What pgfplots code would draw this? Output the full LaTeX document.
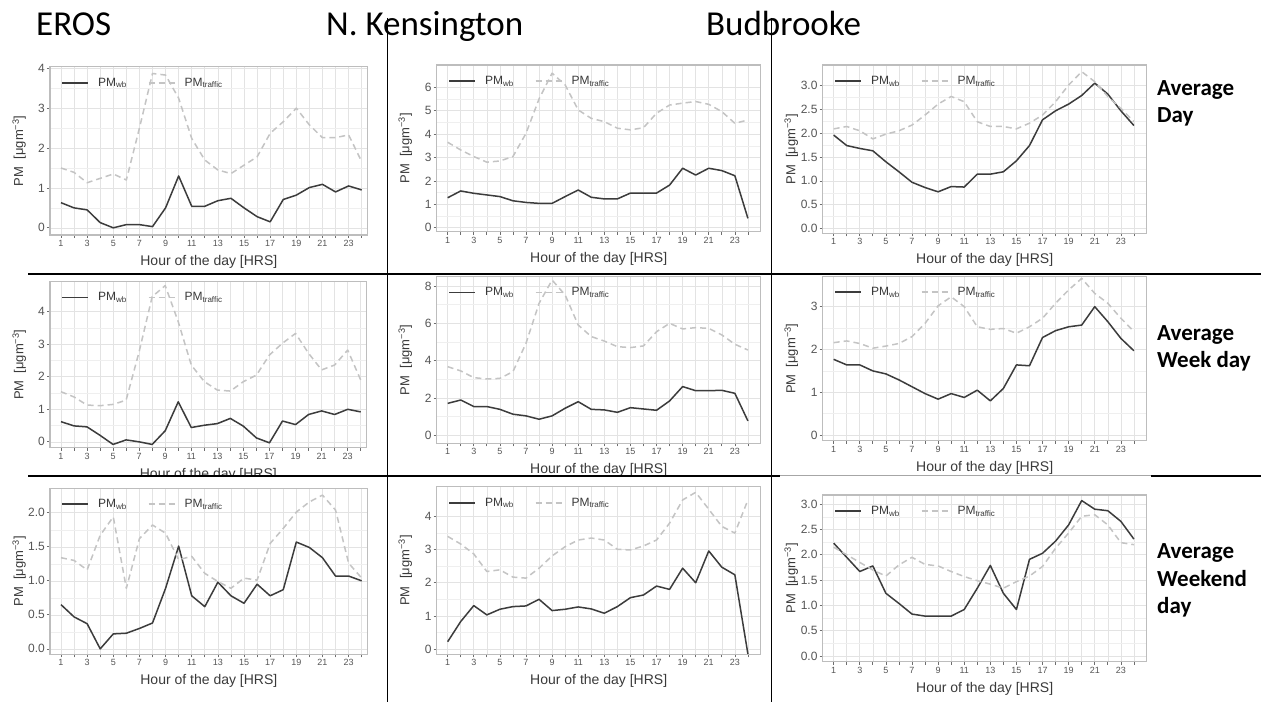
\documentclass[border=0pt]{standalone}
\usepackage{fontspec}
\setmainfont{Liberation Sans}
\newfontfamily\calibri{Carlito}
\usepackage{pgfplots}
\usepackage{pgfplotstable}
\pgfplotsset{compat=1.18}

\definecolor{boxgray}{HTML}{BDBDBD}
\definecolor{gridmaj}{HTML}{E3E3E3}
\definecolor{gridmin}{HTML}{EFEFEF}
\definecolor{tickgray}{HTML}{6E6E6E}
\definecolor{ticktext}{HTML}{555555}
\definecolor{labeltext}{HTML}{3A3A3A}
\definecolor{wbline}{HTML}{3C3C3C}
\definecolor{trline}{HTML}{C4C4C4}

% hourly means: h = hour, wb = PM_wb, tr = PM_traffic
\pgfplotstableread{
h wb tr
1 0.63 1.50
2 0.50 1.39
3 0.45 1.13
4 0.13 1.24
5 0.00 1.35
6 0.08 1.20
7 0.08 2.50
8 0.03 3.87
9 0.50 3.83
10 1.30 3.25
11 0.54 2.24
12 0.54 1.70
13 0.68 1.45
14 0.74 1.36
15 0.50 1.57
16 0.28 1.78
17 0.15 2.37
18 0.71 2.66
19 0.82 3.00
20 1.01 2.58
21 1.09 2.26
22 0.90 2.26
23 1.05 2.33
24 0.95 1.66
}\erosDay
\pgfplotstableread{
h wb tr
1 1.28 3.65
2 1.57 3.32
3 1.47 3.04
4 1.40 2.80
5 1.33 2.85
6 1.15 3.04
7 1.08 4.03
8 1.04 5.50
9 1.04 6.60
10 1.33 6.10
11 1.61 5.03
12 1.30 4.67
13 1.23 4.53
14 1.23 4.25
15 1.48 4.18
16 1.48 4.27
17 1.48 4.89
18 1.82 5.24
19 2.54 5.32
20 2.25 5.39
21 2.54 5.27
22 2.44 4.96
23 2.22 4.46
24 0.40 4.60
}\nkDay
\pgfplotstableread{
h wb tr
1 1.96 2.09
2 1.74 2.14
3 1.68 2.05
4 1.63 1.88
5 1.40 1.98
6 1.19 2.05
7 0.97 2.17
8 0.86 2.38
9 0.77 2.61
10 0.88 2.77
11 0.87 2.66
12 1.14 2.24
13 1.14 2.14
14 1.19 2.14
15 1.42 2.09
16 1.74 2.21
17 2.28 2.38
18 2.47 2.66
19 2.61 3.01
20 2.79 3.29
21 3.05 3.08
22 2.82 2.77
23 2.47 2.52
24 2.16 2.24
}\budDay
\pgfplotstableread{
h wb tr
1 0.62 1.54
2 0.49 1.38
3 0.46 1.13
4 0.20 1.11
5 -0.08 1.15
6 0.06 1.28
7 0.00 2.77
8 -0.08 4.46
9 0.34 4.80
10 1.23 3.69
11 0.44 2.36
12 0.51 1.85
13 0.56 1.59
14 0.72 1.56
15 0.48 1.85
16 0.12 2.05
17 -0.03 2.67
18 0.64 3.03
19 0.53 3.33
20 0.84 2.72
21 0.95 2.21
22 0.84 2.36
23 1.00 2.82
24 0.92 1.90
}\erosWeek
\pgfplotstableread{
h wb tr
1 1.71 3.68
2 1.89 3.45
3 1.54 3.09
4 1.54 3.02
5 1.39 3.05
6 1.13 3.41
7 1.04 4.93
8 0.86 7.07
9 1.04 8.32
10 1.45 7.52
11 1.80 5.91
12 1.39 5.29
13 1.36 5.05
14 1.23 4.75
15 1.48 4.70
16 1.41 4.79
17 1.34 5.55
18 1.84 6.00
19 2.61 5.70
20 2.39 5.77
21 2.39 5.73
22 2.41 5.38
23 2.25 4.88
24 0.77 4.57
}\nkWeek
\pgfplotstableread{
h wb tr
1 1.77 2.16
2 1.64 2.20
3 1.64 2.14
4 1.50 2.03
5 1.43 2.08
6 1.29 2.14
7 1.13 2.30
8 0.97 2.61
9 0.84 3.02
10 0.97 3.23
11 0.88 3.00
12 1.05 2.53
13 0.80 2.47
14 1.09 2.49
15 1.64 2.38
16 1.62 2.53
17 2.28 2.73
18 2.44 3.08
19 2.53 3.39
20 2.57 3.66
21 3.00 3.31
22 2.65 3.08
23 2.26 2.73
24 1.97 2.42
}\budWeek
\pgfplotstableread{
h wb tr
1 0.65 1.34
2 0.47 1.30
3 0.37 1.16
4 0.00 1.67
5 0.22 1.94
6 0.23 0.89
7 0.30 1.62
8 0.38 1.82
9 0.89 1.70
10 1.51 1.31
11 0.78 1.36
12 0.62 1.11
13 0.98 0.99
14 0.78 0.89
15 0.67 1.04
16 0.95 1.01
17 0.78 1.55
18 0.87 1.77
19 1.57 2.01
20 1.49 2.16
21 1.34 2.26
22 1.07 2.04
23 1.07 1.26
24 1.00 1.04
}\erosWeekend
\pgfplotstableread{
h wb tr
1 0.22 3.40
2 0.83 3.17
3 1.31 2.87
4 1.03 2.34
5 1.20 2.39
6 1.28 2.17
7 1.30 2.14
8 1.50 2.44
9 1.16 2.81
10 1.20 3.09
11 1.27 3.29
12 1.21 3.35
13 1.08 3.29
14 1.28 3.01
15 1.55 2.99
16 1.63 3.11
17 1.90 3.29
18 1.80 3.80
19 2.44 4.50
20 2.00 4.73
21 2.96 4.22
22 2.47 3.70
23 2.24 3.50
24 -0.15 4.50
}\nkWeekend
\pgfplotstableread{
h wb tr
1 2.23 2.15
2 1.95 2.00
3 1.67 1.85
4 1.78 1.70
5 1.24 1.58
6 1.04 1.80
7 0.83 1.95
8 0.79 1.81
9 0.79 1.78
10 0.79 1.67
11 0.92 1.57
12 1.34 1.49
13 1.79 1.42
14 1.24 1.34
15 0.92 1.47
16 1.91 1.58
17 2.03 1.77
18 2.27 2.13
19 2.59 2.43
20 3.07 2.76
21 2.90 2.79
22 2.87 2.59
23 2.66 2.24
24 2.31 2.20
}\budWeekend

\pgfplotsset{
  panel/.style={
    scale only axis, anchor=south west,
    axis line style={draw=boxgray, line width=1.2pt},
    xtick={1,...,24},
    xticklabels={1,,3,,5,,7,,9,,11,,13,,15,,17,,19,,21,,23,},
    tick pos=left, tick align=outside,
    major tick length=3pt, minor tick length=0pt,
    tick style={draw=tickgray, line width=0.7pt},
    xmajorgrids, ymajorgrids, yminorgrids, minor y tick num=1,
    major grid style={draw=gridmaj, line width=0.6pt},
    minor grid style={draw=gridmin, line width=0.5pt},
    x tick label style={font=\fontsize{9}{9}\selectfont, text=ticktext, inner sep=2pt},
    y tick label style={font=\fontsize{12}{12}\selectfont, text=ticktext, inner sep=2pt},
    /pgf/number format/assume math mode=true,
    xlabel={Hour of the day [HRS]},
    ylabel={PM\ \ [μgm\textsuperscript{−3}]},
    every axis x label/.style={at={(axis description cs:0.5,0)}, anchor=center, yshift=-27pt, font=\fontsize{14}{14}\selectfont, text=labeltext},
    every axis y label/.style={at={(axis description cs:-0.097,0.5)}, anchor=center, rotate=90, font=\fontsize{13}{13}\selectfont, text=labeltext},
    legend columns=2,
    legend style={at={(axis description cs:0.035,0.905)}, anchor=west, draw=none, fill=none, inner sep=0pt, font=\fontsize{12}{12}\selectfont, text=labeltext, nodes={inner sep=3pt},
      /tikz/every odd column/.append style={column sep=6pt},
      /tikz/every even column/.append style={column sep=18pt}},
    legend image code/.code={\draw[#1, line width=1.8pt] (0pt,0pt) -- (26pt,0pt);},
  },
  col1/.style={xmin=0.16, xmax=24.46},
  colx/.style={xmin=0.16, xmax=24.98},
  onedec/.style={yticklabel style={/pgf/number format/.cd, fixed, fixed zerofill, precision=1}},
  wb/.style={draw=wbline, line width=1.5pt, line join=round},
  tr/.style={draw=trline, line width=1.5pt, line join=round, dash pattern=on 6pt off 4pt},
}

\newcommand{\series}[1]{%
  \addplot[wb] table[x=h, y=wb] {#1};
  \addlegendentry{PM\textsubscript{wb}}
  \addplot[tr] table[x=h, y=tr] {#1};
  \addlegendentry{PM\textsubscript{traffic}}
}

\begin{document}
\begin{tikzpicture}[x=1pt, y=1pt]
\path[use as bounding box, fill=white] (0,0) rectangle (1261,702);

% ---- average day ----
\begin{axis}[panel, col1, at={(50pt,467pt)}, width=317.7pt, height=168.3pt,
  ymin=-0.18, ymax=4.04, ytick={0,1,2,3,4}]
  \series{\erosDay}
\end{axis}
\begin{axis}[panel, colx, at={(436.7pt,470.3pt)}, width=324pt, height=166.7pt,
  ymin=-0.17, ymax=6.95, ytick={0,1,...,6}]
  \series{\nkDay}
\end{axis}
\begin{axis}[panel, colx, onedec, at={(822.7pt,468.7pt)}, width=324pt, height=168.3pt,
  ymin=-0.1, ymax=3.43, ytick={0,0.5,...,3.0}]
  \series{\budDay}
\end{axis}

% ---- average week day ----
\begin{axis}[panel, col1, at={(50pt,254.3pt)}, width=316.7pt, height=166pt,
  ymin=-0.18, ymax=4.92, ytick={0,1,2,3,4}]
  \series{\erosWeek}
\end{axis}
\begin{axis}[panel, colx, at={(436.7pt,258.7pt)}, width=324pt, height=166.6pt,
  ymin=-0.43, ymax=8.5, ytick={0,2,4,6,8}]
  \series{\nkWeek}
\end{axis}
\begin{axis}[panel, colx, at={(822.7pt,261.3pt)}, width=324pt, height=164pt,
  ymin=-0.13, ymax=3.7, ytick={0,1,2,3}]
  \series{\budWeek}
\end{axis}

% bottom row sits over the lower edge of the middle row
\fill[white] (0,0) rectangle (1261,225);

% ---- average weekend day ----
\begin{axis}[panel, col1, onedec, at={(50pt,47.7pt)}, width=317.7pt, height=166pt,
  ymin=-0.08, ymax=2.36, ytick={0,0.5,...,2.0}]
  \series{\erosWeekend}
\end{axis}
\begin{axis}[panel, colx, at={(436.7pt,47.7pt)}, width=324pt, height=167.6pt,
  ymin=-0.16, ymax=4.9, ytick={0,1,2,3,4}]
  \series{\nkWeekend}
\end{axis}
\begin{axis}[panel, colx, onedec, at={(822.7pt,40.3pt)}, width=324pt, height=166.7pt,
  ymin=-0.11, ymax=3.18, ytick={0,0.5,...,3.0}]
  \series{\budWeekend}
\end{axis}

% separators
\draw[black, line width=2pt] (28,428) -- (1261,428);
\draw[black, line width=2pt] (28,226) -- (780,226);
\draw[black!35, line width=1pt] (780,226) -- (1151,226);
\draw[black, line width=2pt] (1151,226) -- (1261,226);
\draw[black, line width=1.2pt] (387.5,684) -- (387.5,0);
\draw[black, line width=1.2pt] (771.5,684) -- (771.5,0);

% site names
\begin{scope}[every node/.style={anchor=base west, inner sep=0pt, font=\calibri\fontsize{35}{35}\selectfont}]
\node at (36,666) {EROS};
\node at (326,666) {N. Kensington};
\node at (706,666) {Budbrooke};
\end{scope}

% period names
\begin{scope}[every node/.style={anchor=base west, inner sep=0pt, font=\calibri\bfseries\fontsize{23}{23}\selectfont}]
\node at (1157,606) {Average};
\node at (1157,579) {Day};
\node at (1157,361) {Average};
\node at (1157,334) {Week day};
\node at (1157,143) {Average};
\node at (1157,116) {Weekend};
\node at (1157,89) {day};
\end{scope}
\end{tikzpicture}
\end{document}
